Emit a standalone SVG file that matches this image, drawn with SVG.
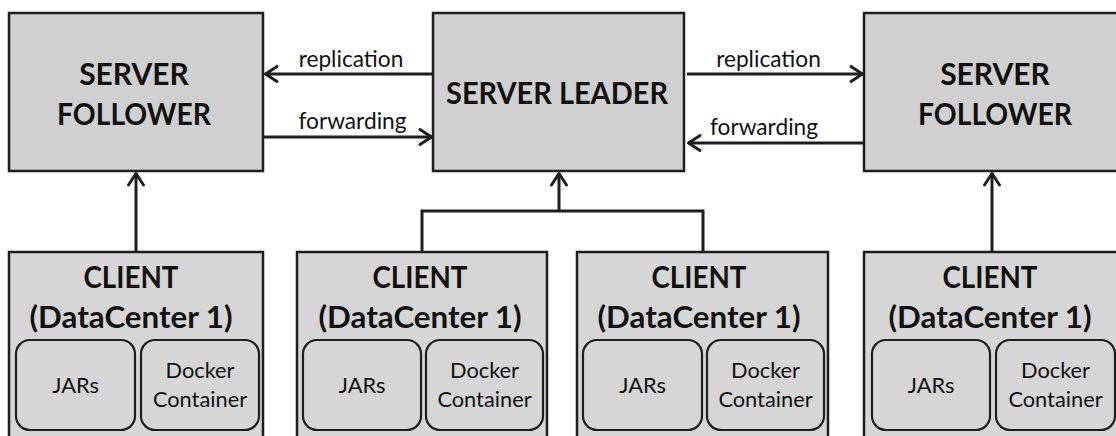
<svg xmlns="http://www.w3.org/2000/svg" width="1116" height="436" viewBox="0 0 1116 436">
<style>
.server{fill:#d0d0d0;stroke:#1e1e1e;stroke-width:2.5}
.client{fill:#d6d6d6;stroke:#1e1e1e;stroke-width:2.5}
.inner{fill:#d6d6d6;stroke:#1e1e1e;stroke-width:2.2}
.title{font-family:Lato,"Open Sans",sans-serif;font-weight:bold;font-size:30px;fill:#111;text-anchor:middle}
.lbl{font-family:Lato,"Open Sans",sans-serif;font-size:22.7px;fill:#111;text-anchor:middle}
.sub{font-family:Lato,"Open Sans",sans-serif;font-size:21.8px;fill:#111;text-anchor:middle}
.conn{fill:none;stroke:#1e1e1e;stroke-width:3}
</style>
<defs>
<marker id="arr" markerUnits="userSpaceOnUse" viewBox="-16 -10 18 20" refX="0" refY="0" markerWidth="18" markerHeight="20" orient="auto" overflow="visible">
<path d="M-12,-7.5 L-0.5,0 L-12,7.5" fill="none" stroke="#1e1e1e" stroke-width="3" stroke-linecap="round" stroke-linejoin="round"/>
</marker>
</defs>
<rect width="1116" height="436" fill="#ffffff"/>
<g id="follower-left">
<rect class="server" x="9" y="13" width="254" height="158"/>
<text class="title" x="134" y="85">SERVER</text>
<text class="title" x="134" y="125" textLength="154" lengthAdjust="spacingAndGlyphs">FOLLOWER</text>
</g>
<g id="leader">
<rect class="server" x="433" y="13" width="251" height="158"/>
<text class="title" x="557" y="104" textLength="222" lengthAdjust="spacingAndGlyphs">SERVER LEADER</text>
</g>
<g id="follower-right">
<rect class="server" x="864" y="13" width="262" height="158"/>
<text class="title" x="995" y="85">SERVER</text>
<text class="title" x="995" y="125" textLength="154" lengthAdjust="spacingAndGlyphs">FOLLOWER</text>
</g>
<g id="client-1">
<rect class="client" x="9" y="252" width="254" height="192"/>
<text class="title" x="131" y="288" textLength="95" lengthAdjust="spacingAndGlyphs">CLIENT</text>
<text class="title" x="131" y="328" textLength="203" lengthAdjust="spacingAndGlyphs">(DataCenter 1)</text>
<rect class="inner" x="16" y="340" width="119" height="90" rx="14"/>
<rect class="inner" x="141" y="340" width="118" height="90" rx="14"/>
<text class="sub" x="75.5" y="393">JARs</text>
<text class="sub" x="200" y="378">Docker</text>
<text class="sub" x="200" y="407">Container</text>
</g>
<g id="client-2">
<rect class="client" x="297" y="252" width="250" height="192"/>
<text class="title" x="420" y="288" textLength="95" lengthAdjust="spacingAndGlyphs">CLIENT</text>
<text class="title" x="420" y="328" textLength="203" lengthAdjust="spacingAndGlyphs">(DataCenter 1)</text>
<rect class="inner" x="303" y="340" width="118" height="90" rx="14"/>
<rect class="inner" x="426" y="340" width="117" height="90" rx="14"/>
<text class="sub" x="362" y="393">JARs</text>
<text class="sub" x="484.5" y="378">Docker</text>
<text class="sub" x="484.5" y="407">Container</text>
</g>
<g id="client-3">
<rect class="client" x="577" y="252" width="251" height="192"/>
<text class="title" x="699" y="288" textLength="95" lengthAdjust="spacingAndGlyphs">CLIENT</text>
<text class="title" x="699" y="328" textLength="203" lengthAdjust="spacingAndGlyphs">(DataCenter 1)</text>
<rect class="inner" x="583" y="340" width="119" height="90" rx="14"/>
<rect class="inner" x="707" y="340" width="117" height="90" rx="14"/>
<text class="sub" x="642.5" y="393">JARs</text>
<text class="sub" x="765.5" y="378">Docker</text>
<text class="sub" x="765.5" y="407">Container</text>
</g>
<g id="client-4">
<rect class="client" x="864" y="252" width="262" height="192"/>
<text class="title" x="990" y="288" textLength="95" lengthAdjust="spacingAndGlyphs">CLIENT</text>
<text class="title" x="990" y="328" textLength="203" lengthAdjust="spacingAndGlyphs">(DataCenter 1)</text>
<rect class="inner" x="872" y="340" width="118" height="90" rx="14"/>
<rect class="inner" x="996" y="340" width="119" height="90" rx="14"/>
<text class="sub" x="931" y="393">JARs</text>
<text class="sub" x="1055.5" y="378">Docker</text>
<text class="sub" x="1055.5" y="407">Container</text>
</g>
<g id="connectors">
<line class="conn" x1="433" y1="74" x2="265" y2="74" marker-end="url(#arr)"/>
<line class="conn" x1="263" y1="137" x2="432" y2="137" marker-end="url(#arr)"/>
<line class="conn" x1="687" y1="74" x2="863" y2="74" marker-end="url(#arr)"/>
<line class="conn" x1="864" y1="143" x2="688" y2="143" marker-end="url(#arr)"/>
<line class="conn" x1="136" y1="252" x2="136" y2="173" marker-end="url(#arr)"/>
<line class="conn" x1="992" y1="252" x2="992" y2="173" marker-end="url(#arr)"/>
<path class="conn" d="M422,252 V211 H703 V252"/>
<line class="conn" x1="559" y1="211" x2="559" y2="173" marker-end="url(#arr)"/>
<text class="lbl" x="351" y="67">replication</text>
<text class="lbl" x="352.5" y="129">forwarding</text>
<text class="lbl" x="768.5" y="67">replication</text>
<text class="lbl" x="764" y="135">forwarding</text>
</g>
</svg>
